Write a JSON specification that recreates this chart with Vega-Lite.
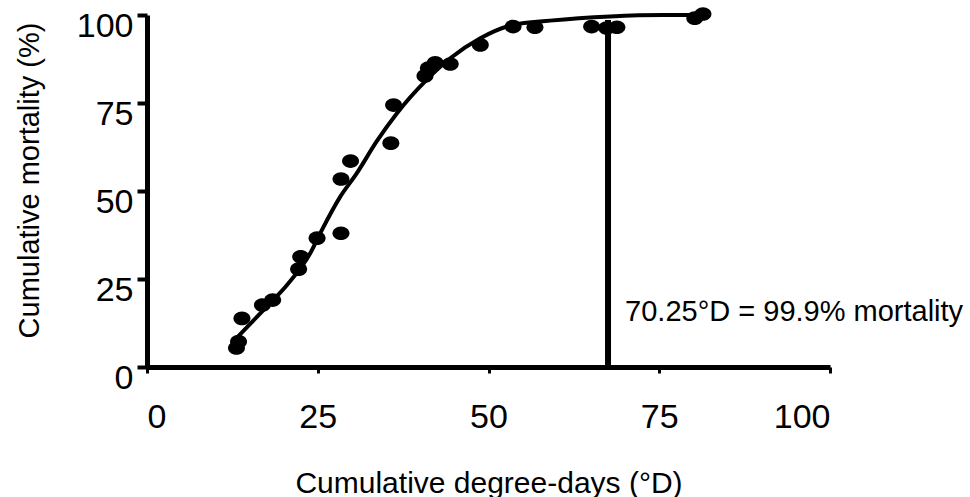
{
  "$schema": "https://vega.github.io/schema/vega-lite/v6.json",
  "autosize": "none",
  "width": 683,
  "height": 352,
  "padding": {"left": 147, "top": 15, "right": 140, "bottom": 130},
  "background": "white",
  "config": {
    "view": {"stroke": null},
    "font": "Liberation Sans",
    "axis": {"grid": false, "domainColor": "black", "tickColor": "black", "labelColor": "black", "titleColor": "black", "labelFont": "Liberation Sans", "titleFont": "Liberation Sans", "titleFontWeight": "normal", "labelFontWeight": "normal"}
  },
  "datasets": {
    "points": [
      {"dd": 13.1, "mort": 5.4}, {"dd": 13.4, "mort": 7.2}, {"dd": 13.9, "mort": 13.8},
      {"dd": 16.9, "mort": 17.6}, {"dd": 18.4, "mort": 19.0}, {"dd": 22.2, "mort": 27.8},
      {"dd": 22.5, "mort": 31.3}, {"dd": 24.9, "mort": 36.6}, {"dd": 28.4, "mort": 38.0},
      {"dd": 28.4, "mort": 53.4}, {"dd": 29.8, "mort": 58.5}, {"dd": 35.7, "mort": 63.6},
      {"dd": 36.1, "mort": 74.4}, {"dd": 40.7, "mort": 82.7}, {"dd": 41.2, "mort": 84.9},
      {"dd": 42.2, "mort": 86.4}, {"dd": 44.4, "mort": 86.1}, {"dd": 48.8, "mort": 91.5},
      {"dd": 53.6, "mort": 96.7}, {"dd": 56.8, "mort": 96.5}, {"dd": 65.1, "mort": 96.7},
      {"dd": 67.3, "mort": 96.3}, {"dd": 68.8, "mort": 96.5}, {"dd": 80.2, "mort": 99.1},
      {"dd": 81.4, "mort": 100.3}
    ],
    "curve": [
      {"dd": 13.1, "mort": 8.2}, {"dd": 17.5, "mort": 17.1}, {"dd": 20.5, "mort": 23.3},
      {"dd": 23.9, "mort": 32.3}, {"dd": 25.6, "mort": 38.9}, {"dd": 28.3, "mort": 48.4},
      {"dd": 30.7, "mort": 55.0}, {"dd": 33.6, "mort": 64.0}, {"dd": 36.6, "mort": 72.1},
      {"dd": 40.9, "mort": 81.5}, {"dd": 44.4, "mort": 87.7}, {"dd": 48.8, "mort": 93.4},
      {"dd": 53.6, "mort": 97.2}, {"dd": 59.0, "mort": 98.4}, {"dd": 67.8, "mort": 99.6},
      {"dd": 75.6, "mort": 100}, {"dd": 80.5, "mort": 100}
    ],
    "marker": [{"dd": 67.5, "low": 0, "high": 98.6}],
    "note": [{"dd": 70.0, "mort": 13, "label": "70.25°D = 99.9% mortality"}]
  },
  "layer": [
    {
      "data": {"name": "marker"},
      "mark": {"type": "rule", "color": "black", "strokeWidth": 6},
      "encoding": {
        "x": {"field": "dd", "type": "quantitative", "scale": {"domain": [0, 100]},
          "axis": {"values": [0, 25, 50, 75, 100], "title": "Cumulative degree-days (°D)", "domainWidth": 5, "tickWidth": 3, "tickSize": 6, "labelFontSize": 34, "labelBaseline": "alphabetic", "labelPadding": 54, "titleFontSize": 30, "titleBaseline": "alphabetic", "titleY": 125}},
        "y": {"field": "low", "type": "quantitative", "scale": {"domain": [0, 100]},
          "axis": {"values": [0, 25, 50, 75, 100], "title": "Cumulative mortality (%)", "domainWidth": 5, "tickWidth": 4, "tickSize": 10, "labelFontSize": 34, "labelBaseline": "alphabetic", "labelOffset": 21, "labelPadding": 4, "titleFontSize": 29, "titleBaseline": "alphabetic", "titleAlign": "center", "titleAngle": -90, "titleX": -109, "titleY": 165}},
        "y2": {"field": "high"}
      }
    },
    {
      "data": {"name": "curve"},
      "mark": {"type": "line", "color": "black", "strokeWidth": 4, "interpolate": "monotone"},
      "encoding": {
        "x": {"field": "dd", "type": "quantitative"},
        "y": {"field": "mort", "type": "quantitative"}
      }
    },
    {
      "data": {"name": "points"},
      "mark": {"type": "point", "filled": true, "color": "black", "opacity": 1, "shape": "M-1,0A1,0.8 0 1,1 1,0A1,0.8 0 1,1 -1,0Z", "size": 289},
      "encoding": {
        "x": {"field": "dd", "type": "quantitative"},
        "y": {"field": "mort", "type": "quantitative"}
      }
    },
    {
      "data": {"name": "note"},
      "mark": {"type": "text", "align": "left", "baseline": "alphabetic", "fontSize": 29, "color": "black", "font": "Liberation Sans"},
      "encoding": {
        "x": {"field": "dd", "type": "quantitative"},
        "y": {"field": "mort", "type": "quantitative"},
        "text": {"field": "label"}
      }
    }
  ]
}
